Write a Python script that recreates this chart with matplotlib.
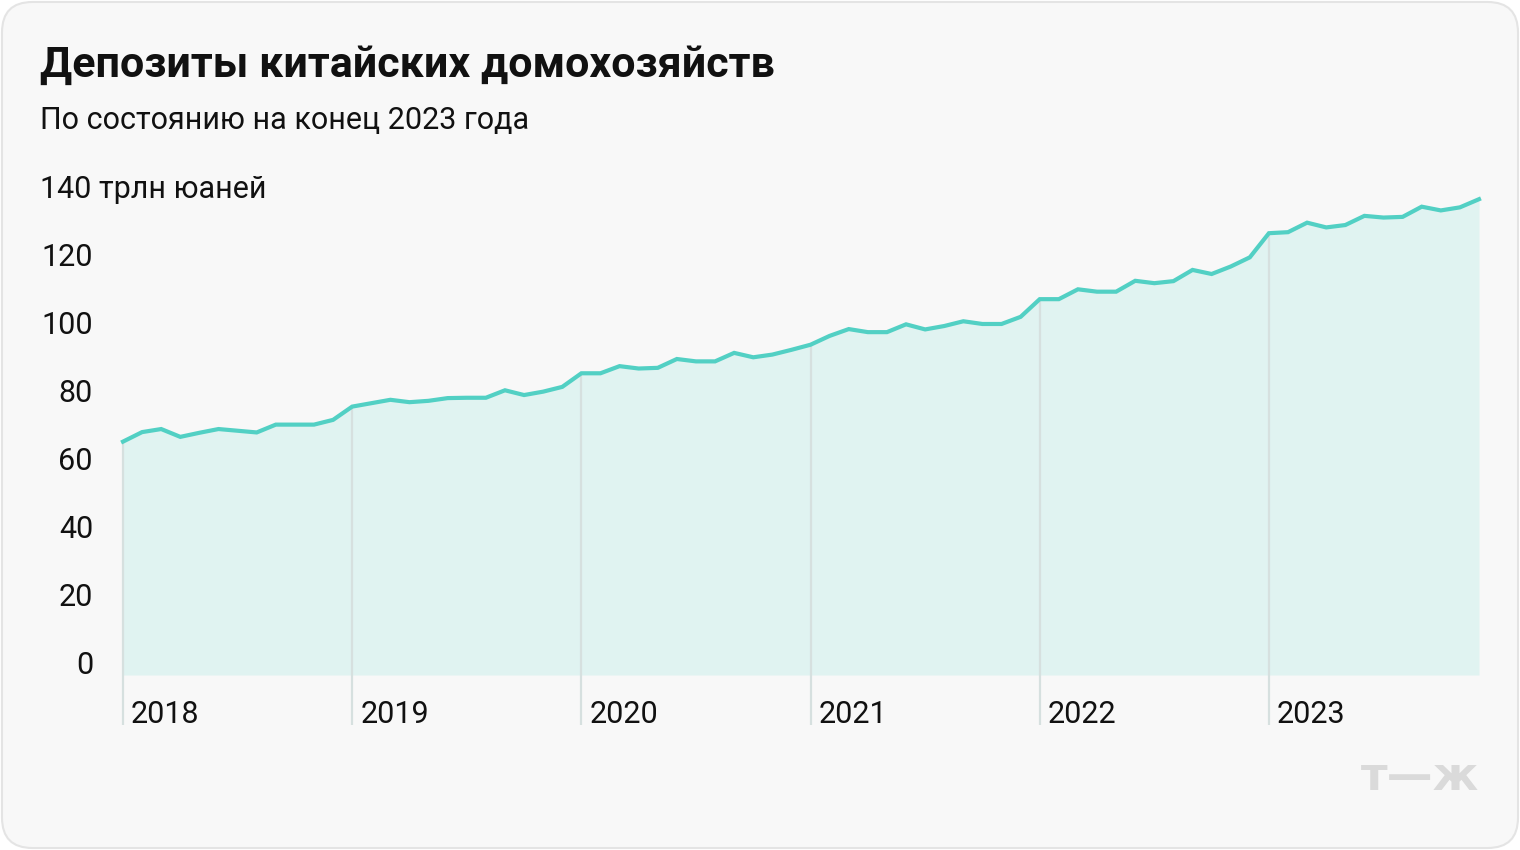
import matplotlib
matplotlib.use("Agg")
import matplotlib.pyplot as plt
from matplotlib.patches import FancyBboxPatch
import matplotlib.transforms as mtransforms

plt.rcParams['font.family'] = ['Roboto', 'DejaVu Sans']

# monthly household deposits, trillion yuan, Jan 2018 - Dec 2023
years = ["2018", "2019", "2020", "2021", "2022", "2023"]
deposits = [
    65.7, 68.5, 69.4, 67.1, 68.3, 69.4, 68.9, 68.4, 70.7, 70.7, 70.7, 72.1,
    76.0, 77.0, 78.0, 77.3, 77.7, 78.5, 78.6, 78.6, 80.8, 79.4, 80.4, 81.8,
    85.8, 85.8, 87.9, 87.2, 87.4, 90.0, 89.3, 89.3, 91.8, 90.5, 91.3, 92.7,
    94.2, 96.8, 98.8, 97.9, 97.9, 100.2, 98.7, 99.7, 101.1, 100.3, 100.3, 102.4,
    107.6, 107.6, 110.5, 109.8, 109.8, 113.0, 112.3, 112.9, 116.2, 115.0, 117.2, 119.9,
    127.0, 127.3, 130.1, 128.7, 129.4, 132.1, 131.6, 131.8, 134.8, 133.7, 134.6, 137.0,
]
y_ticks = [0, 20, 40, 60, 80, 100, 120]
top_label = "140 трлн юаней"

W, H = 1520, 850
fig = plt.figure(figsize=(W / 100, H / 100), dpi=100)
fig.patch.set_facecolor("white")

# card background
card = FancyBboxPatch((2 / W, 2 / H), (W - 4) / W, (H - 4) / H,
                      boxstyle="round,pad=0,rounding_size=0.02",
                      transform=fig.transFigure, facecolor="#f8f8f8",
                      edgecolor="#e4e4e4", linewidth=1.5, mutation_aspect=W / H,
                      zorder=-10)
fig.patches.append(card)

ax = fig.add_axes([123 / W, 175 / H, (1479 - 123) / W, (675 - 189) / H])
ax.set_zorder(1)
ax.set_facecolor("none")
x = list(range(len(deposits)))
y0 = -2.94
ax.set_xlim(0, len(deposits) - 1)
ax.set_ylim(y0, 140)

ax.fill_between(x, y0, deposits, color="#e0f3f1", linewidth=0, zorder=1)

# year separators
for i, yr in enumerate(years):
    xi = i * 12
    ax.vlines(xi, -17.6, deposits[xi], color="#d6e0df", linewidth=1.6,
              zorder=2, clip_on=False)
    ax.text(xi + 0.42, -14.7, yr, fontsize=22, color="#111111",
            ha="left", va="center", clip_on=False)

ax.plot(x, deposits, color="#52d0c4", linewidth=3, solid_joinstyle="miter",
        zorder=3, clip_on=False)

ax.set_yticks(y_ticks)
ax.set_yticklabels([str(v) for v in y_ticks])
ax.set_xticks([])
ax.tick_params(axis="y", length=0, labelsize=22, labelcolor="#111111", pad=21.6)
for lab in ax.get_yticklabels():
    lab.set_verticalalignment("center")
for s in ax.spines.values():
    s.set_visible(False)

trans = mtransforms.blended_transform_factory(fig.transFigure, ax.transData)
ax.text(40 / W, 140, top_label, transform=trans, fontsize=22,
        color="#111111", ha="left", va="center")

fig.text(40 / W, 1 - 65 / H, "Депозиты китайских домохозяйств",
         fontsize=31, fontweight="bold", color="#111111", ha="left", va="center")
fig.text(40 / W, 1 - 120 / H, "По состоянию на конец 2023 года",
         fontsize=22, color="#111111", ha="left", va="center")

fig.text(1479 / W, 1 - 778 / H, "т—ж", fontsize=33, fontweight="heavy",
         color="#dadada", ha="right", va="center", family="DejaVu Sans")

fig.savefig("out.png", dpi=100, facecolor=fig.get_facecolor())
